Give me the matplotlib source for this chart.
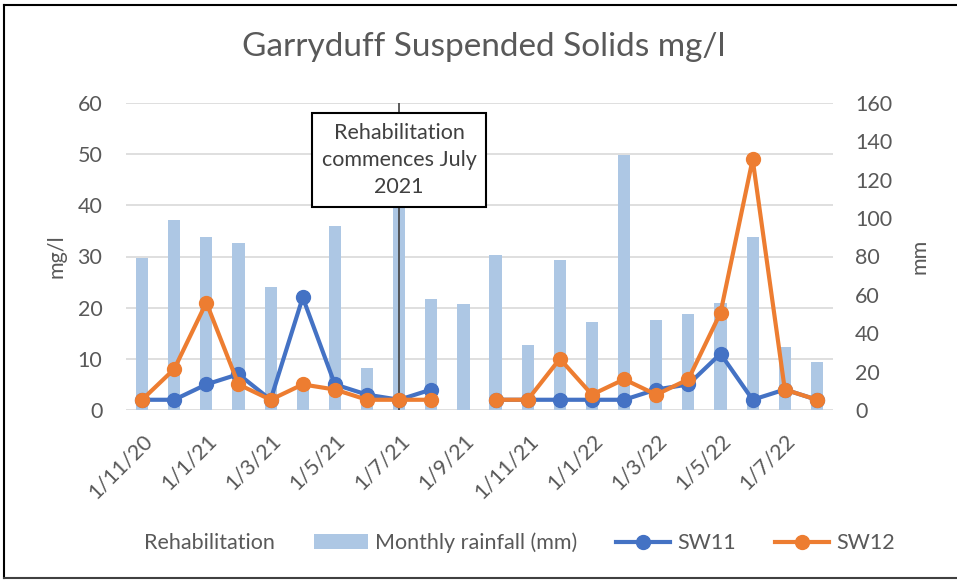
import numpy as np
import matplotlib
matplotlib.use("Agg")
import matplotlib.pyplot as plt
from matplotlib.lines import Line2D
from matplotlib.patches import Patch

plt.rcParams['font.family'] = ['Lato', 'DejaVu Sans']

# ---- data ----
months = ["1/11/20", "1/12/20", "1/1/21", "1/2/21", "1/3/21", "1/4/21", "1/5/21", "1/6/21",
          "1/7/21", "1/8/21", "1/9/21", "1/10/21", "1/11/21", "1/12/21", "1/1/22", "1/2/22",
          "1/3/22", "1/4/22", "1/5/22", "1/6/22", "1/7/22", "1/8/22"]
rainfall = [79, 99, 90, 87, 64, 13, 96, 22, 108, 58, 55, 81, 34, 78, 46, 133, 47, 50, 56, 90, 33, 25]
sw11 = [2, 2, 5, 7, 2, 22, 5, 3, 2, 4, np.nan, 2, 2, 2, 2, 2, 4, 5, 11, 2, 4, 2]
sw12 = [2, 8, 21, 5, 2, 5, 4, 2, 2, 2, np.nan, 2, 2, 10, 3, 6, 3, 6, 19, 49, 4, 2]
rehab_month = "1/7/21"
left_ticks = [0, 10, 20, 30, 40, 50, 60]
right_ticks = [0, 20, 40, 60, 80, 100, 120, 140, 160]

title = "Garryduff Suspended Solids mg/l"
note = "Rehabilitation\ncommences July\n2021"

# ---- style ----
TXT = '#595959'
BLUE = '#4472C4'
ORANGE = '#ED7D31'
BAR = '#adc7e4'
GRID = '#d9d9d9'
FS = 15.5

W, H = 957, 581
fig = plt.figure(figsize=(W / 100, H / 100), dpi=100)
L, R, B, T = 126, 833, 410, 103
ax = fig.add_axes([L / W, 1 - B / H, (R - L) / W, (B - T) / H])
ax2 = ax.twinx()

x = np.arange(len(months))

# bars on secondary (mm)
ax2.bar(x, rainfall, width=0.38, color=BAR, zorder=2)
ax2.set_ylim(right_ticks[0], right_ticks[-1])
ax2.set_yticks(right_ticks)
# gridlines (mapped from left ticks) behind bars
for t in left_ticks:
    ax2.axhline(t * right_ticks[-1] / left_ticks[-1], color=GRID, lw=1.2, zorder=0)

# lines on primary (mg/l)
ax.set_zorder(ax2.get_zorder() + 1)
ax.patch.set_visible(False)
rx = months.index(rehab_month)
ax.axvline(rx, color='#404040', lw=1.2, zorder=1)
ax.plot(x, sw11, color=BLUE, lw=3, marker='o', ms=10, zorder=3)
ax.plot(x, sw12, color=ORANGE, lw=3, marker='o', ms=10, zorder=4)
ax.set_ylim(left_ticks[0], left_ticks[-1])
ax.set_yticks(left_ticks)
ax.set_xlim(-0.5, len(months) - 0.5)
ax.set_xticks(x[::2])
ax.set_xticklabels(months[::2], rotation=45, ha='right', va='top', rotation_mode='anchor')

for a in (ax, ax2):
    for s in a.spines.values():
        s.set_visible(False)
    a.tick_params(length=0, labelsize=FS, labelcolor=TXT)
ax.tick_params(axis='y', pad=17)
ax2.tick_params(axis='y', pad=16)
ax.tick_params(axis='x', pad=15)

ax.set_ylabel("mg/l", fontsize=FS, color=TXT, labelpad=8)
ax2.set_ylabel("mm", fontsize=FS, color=TXT, labelpad=12)

# annotation box
ax.text(rx, 0.814, note, transform=ax.get_xaxis_transform(), ha='center', va='center',
        fontsize=FS, color='#404040', linespacing=1.45, zorder=10,
        bbox=dict(boxstyle='square,pad=0.45', fc='white', ec='black', lw=1.5))

fig.text(484 / W, 1 - 47 / H, title, ha='center', va='center', fontsize=24, color=TXT)

handles = [Line2D([], [], color='none'),
           Patch(facecolor=BAR),
           Line2D([], [], color=BLUE, lw=3, marker='o', ms=10),
           Line2D([], [], color=ORANGE, lw=3, marker='o', ms=10)]
labels = ["Rehabilitation", "Monthly rainfall (mm)", "SW11", "SW12"]
leg = fig.legend(handles, labels, loc='center', bbox_to_anchor=(489 / W, 1 - 543 / H), ncol=4,
                 frameon=False, fontsize=FS, handlelength=2.5, handletextpad=0.35,
                 columnspacing=1.8, labelcolor=TXT)

# outer frame (left, top, bottom)
fig.add_artist(Line2D([4 / W, 4 / W], [1 - 5 / H, 1 - 578 / H], color='black', lw=1.5, transform=fig.transFigure))
fig.add_artist(Line2D([4 / W, 1], [1 - 5 / H, 1 - 5 / H], color='black', lw=1.5, transform=fig.transFigure))
fig.add_artist(Line2D([4 / W, 1], [1 - 578 / H, 1 - 578 / H], color='#404040', lw=1.5, transform=fig.transFigure))

fig.savefig("out.png", dpi=100)
